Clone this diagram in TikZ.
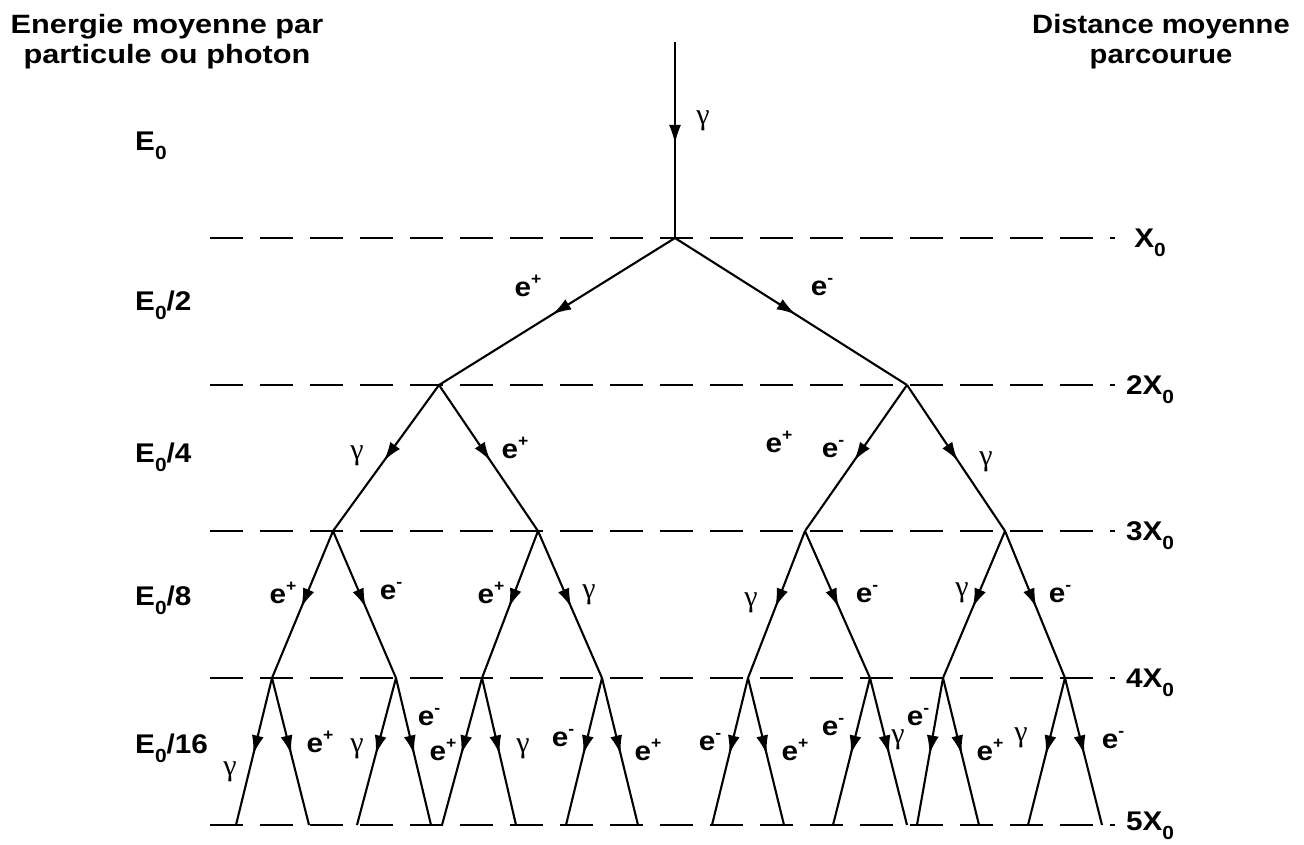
\documentclass[tikz,border=0pt]{standalone}
\usepackage{fontspec}
\setmainfont{Liberation Sans}
\newfontfamily\gfont{Liberation Serif}
\usetikzlibrary{arrows.meta,decorations.markings}
\newcommand{\lbl}[1]{\scalebox{1.1}[1]{#1}}
\newcommand{\labfont}{\fontsize{27}{27}\selectfont\bfseries}
\newcommand{\Ez}{E\raisebox{-9pt}{\fontsize{19}{19}\selectfont 0}}
\newcommand{\Xz}{X\raisebox{-9pt}{\fontsize{19}{19}\selectfont 0}}
\newcommand{\ep}{\lbl{e\raisebox{12pt}{\fontsize{16}{16}\selectfont +}}}
\newcommand{\en}{\lbl{e\raisebox{12pt}{\fontsize{16}{16}\selectfont -}}}
\newcommand{\gm}{{\gfont\mdseries\fontsize{30}{30}\selectfont γ}}
\begin{document}
\begin{tikzpicture}[x=1pt,y=-1pt,
  tree/.style={line width=2.1pt},
  flow/.style={tree, postaction={decorate}, decoration={markings,
      mark=at position 0.52 with {\arrow{Latex[length=19pt,width=12pt]}}}},
  level/.style={line width=2.1pt, dash pattern=on 33pt off 17pt},
  lab/.style={inner sep=0pt, font=\labfont},
  head/.style={inner sep=0pt, font=\fontsize{26.5}{30}\selectfont\bfseries, anchor=base}
]
\useasboundingbox (0,0) rectangle (1304,844);

% levels
\foreach \n/\y in {1/238,2/385,3/531,4/678,5/825}{
  \coordinate (g\n w) at (210,\y);
  \coordinate (g\n e) at (1115,\y);
  \draw[level] (g\n w) -- (g\n e);
}

% vertices
\coordinate (T) at (675,42);
\coordinate (A) at (675,238);
\coordinate (B1) at (439,385);
\coordinate (B2) at (907,385);
\coordinate (C1) at (333,531);
\coordinate (C2) at (538,531);
\coordinate (C3) at (805,531);
\coordinate (C4) at (1005,531);
\coordinate (D1) at (272,678);
\coordinate (D2) at (396,678);
\coordinate (D3) at (482,678);
\coordinate (D4) at (602,678);
\coordinate (D5) at (748,678);
\coordinate (D6) at (870,678);
\coordinate (D7) at (943,678);
\coordinate (D8) at (1065,678);
\foreach \n/\a/\b in {1/236/309,2/357/431,3/442/516,4/566/638,5/712/784,6/833/907,7/917/979,8/1028/1102}{
  \coordinate (L\n a) at (\a,825);
  \coordinate (L\n b) at (\b,825);
}

% tree
\draw[flow] (T) -- (A);
\draw[flow] (A) -- (B1);
\draw[flow] (A) -- (B2);
\draw[flow] (B1) -- (C1);
\draw[flow] (B1) -- (C2);
\draw[flow] (B2) -- (C3);
\draw[flow] (B2) -- (C4);
\draw[flow] (C1) -- (D1);
\draw[flow] (C1) -- (D2);
\draw[flow] (C2) -- (D3);
\draw[flow] (C2) -- (D4);
\draw[flow] (C3) -- (D5);
\draw[flow] (C3) -- (D6);
\draw[flow] (C4) -- (D7);
\draw[flow] (C4) -- (D8);
\foreach \n in {1,...,8}{
  \draw[flow] (D\n) -- (L\n a);
  \draw[flow] (D\n) -- (L\n b);
}

% headers
\node[head] (hl) at (167,33) {\scalebox{1.16}[1]{\begin{tabular}[t]{@{}c@{}}Energie moyenne par\\particule ou photon\end{tabular}}};
\node[head] (hr) at (1161,33) {\scalebox{1.10}[1]{\begin{tabular}[t]{@{}c@{}}Distance moyenne\\parcourue\end{tabular}}};

% energies
\node[lab, anchor=base west] (e0) at (135,150) {\lbl{\Ez}};
\node[lab, anchor=base west] (e1) at (135,310) {\lbl{\Ez/2}};
\node[lab, anchor=base west] (e2) at (135,462) {\lbl{\Ez/4}};
\node[lab, anchor=base west] (e3) at (135,605) {\lbl{\Ez/8}};
\node[lab, anchor=base west] (e4) at (135,753) {\lbl{\Ez/16}};

% distances
\node[lab, anchor=base] (x1) at (1150,247) {\lbl{\Xz}};
\node[lab, anchor=base] (x2) at (1150,394) {\lbl{2\Xz}};
\node[lab, anchor=base] (x3) at (1150,540) {\lbl{3\Xz}};
\node[lab, anchor=base] (x4) at (1150,687) {\lbl{4\Xz}};
\node[lab, anchor=base] (x5) at (1150,830) {\lbl{5\Xz}};

% particle labels
\node[lab] (p0) at (703,121) {\gm};
\node[lab] (p1a) at (528,286) {\ep};
\node[lab] (p1b) at (822,287) {\en};
\node[lab] (p2a) at (357,456) {\gm};
\node[lab] (p2b) at (515,448) {\ep};
\node[lab] (p2c) at (779,442) {\ep};
\node[lab] (p2d) at (833,449) {\en};
\node[lab] (p2e) at (986,462) {\gm};
\node[lab] (p3a) at (283,593) {\ep};
\node[lab] (p3b) at (391,591) {\en};
\node[lab] (p3c) at (491,593) {\ep};
\node[lab] (p3d) at (589,595) {\gm};
\node[lab] (p3e) at (751,603) {\gm};
\node[lab] (p3f) at (867,594) {\en};
\node[lab] (p3g) at (962,593) {\gm};
\node[lab] (p3h) at (1060,594) {\en};
\node[lab] (p4a) at (230,772) {\gm};
\node[lab] (p4b) at (320,742) {\ep};
\node[lab] (p4c) at (357,749) {\gm};
\node[lab] (p4d) at (429,717) {\en};
\node[lab] (p4e) at (443,750) {\ep};
\node[lab] (p4f) at (523,749) {\gm};
\node[lab] (p4g) at (563,738) {\en};
\node[lab] (p4h) at (648,750) {\ep};
\node[lab] (p4i) at (710,742) {\en};
\node[lab] (p4j) at (795,750) {\ep};
\node[lab] (p4k) at (833,727) {\en};
\node[lab] (p4l) at (898,740) {\gm};
\node[lab] (p4m) at (918,717) {\en};
\node[lab] (p4n) at (990,750) {\ep};
\node[lab] (p4o) at (1021,738) {\gm};
\node[lab] (p4p) at (1113,740) {\en};
\end{tikzpicture}
\end{document}
